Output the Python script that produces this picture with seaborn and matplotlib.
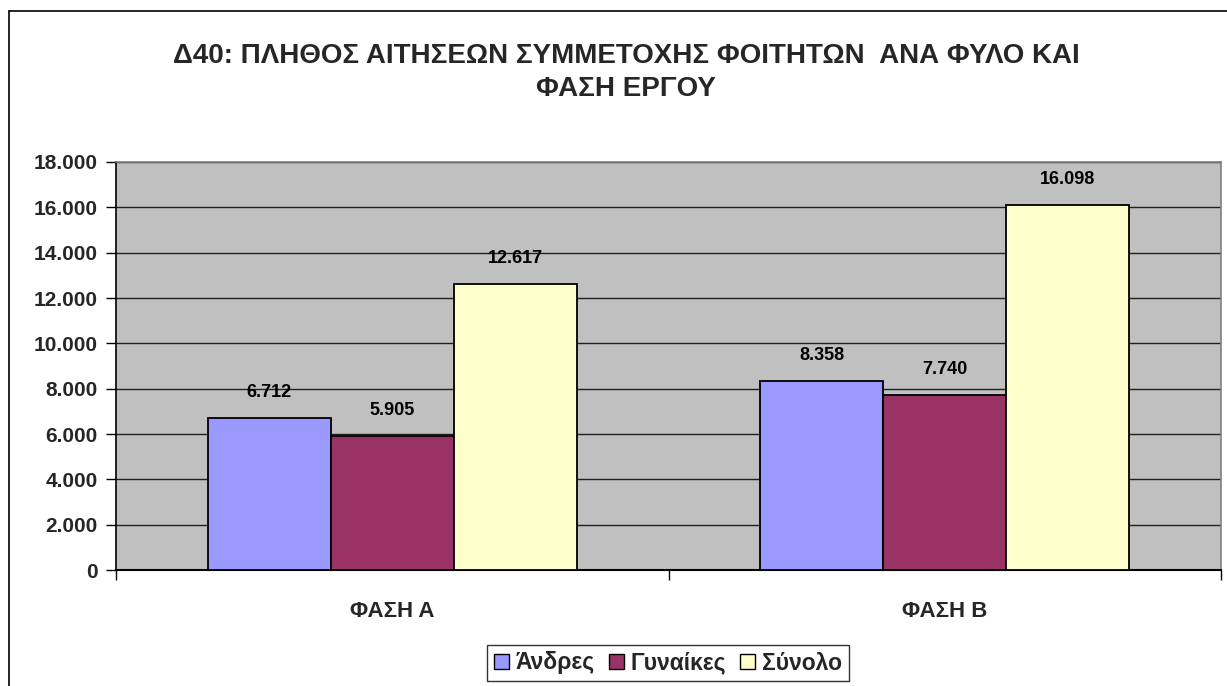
import matplotlib
matplotlib.use("Agg")
import matplotlib.pyplot as plt
import matplotlib.ticker as mticker
from matplotlib.lines import Line2D
from matplotlib.patches import Patch
import seaborn as sns
import pandas as pd

phases = ["ΦΑΣΗ Α", "ΦΑΣΗ Β"]
series = ["Άνδρες", "Γυναίκες", "Σύνολο"]
men = [6712, 8358]
women = [5905, 7740]
total = [12617, 16098]
colors = ["#9999FF", "#993366", "#FFFFCC"]
title = "Δ40: ΠΛΗΘΟΣ ΑΙΤΗΣΕΩΝ ΣΥΜΜΕΤΟΧΗΣ ΦΟΙΤΗΤΩΝ  ΑΝΑ ΦΥΛΟ ΚΑΙ\nΦΑΣΗ ΕΡΓΟΥ"

df = pd.DataFrame({
    "phase": phases * 3,
    "series": [s for s in series for _ in phases],
    "value": men + women + total,
})

sns.set_theme(style="white")
plt.rcParams["font.family"] = ["Liberation Sans", "DejaVu Sans"]
plt.rcParams["font.weight"] = "bold"

fig = plt.figure(figsize=(12.27, 6.86), dpi=100)
W, H = 1227, 686
ax = fig.add_axes([116 / W, 1 - 570 / H, (1221 - 116) / W, (570 - 162) / H])
ax.set_facecolor("#C0C0C0")

sns.barplot(data=df, x="phase", y="value", hue="series", order=phases,
            hue_order=series, palette=colors, width=0.668, ax=ax,
            edgecolor="black", linewidth=1.3, saturation=1, legend=False,
            zorder=3)

ax.set_ylim(0, 18000)
ax.set_xlim(-0.5, 1.5)
ax.set_yticks(range(0, 18001, 2000))
ax.yaxis.set_major_formatter(mticker.FuncFormatter(
    lambda v, p: f"{int(v):,}".replace(",", ".")))
ax.grid(axis="y", color="#202020", linewidth=1.0, zorder=1)
ax.set_axisbelow(True)

ax.set_xlabel("")
ax.set_ylabel("")
ax.tick_params(axis="y", which="major", direction="out", length=7, width=1,
               color="black", labelsize=15, pad=6, left=True)
ax.tick_params(axis="x", which="major", length=0, labelsize=16, pad=22)
ax.xaxis.set_minor_locator(mticker.FixedLocator([-0.5, 0.5, 1.5]))
ax.tick_params(axis="x", which="minor", direction="out", length=7, width=1,
               color="black", bottom=True)
for lbl in ax.get_xticklabels() + ax.get_yticklabels():
    lbl.set_fontweight("bold")

for s in ["top", "right"]:
    ax.spines[s].set_color("#808080")
    ax.spines[s].set_linewidth(1.2)
ax.spines["left"].set_color("black")
ax.spines["bottom"].set_color("black")
ax.spines["left"].set_linewidth(1.2)
ax.spines["bottom"].set_linewidth(1.5)

for container in ax.containers:
    labels = [f"{int(v):,}".replace(",", ".") for v in container.datavalues]
    ax.bar_label(container, labels=labels, padding=12, fontsize=13,
                 fontweight="bold", color="black")

fig.text(626 / W, 1 - 72.5 / H, title, ha="center", va="center",
         fontsize=20, fontweight="bold", linespacing=1.38)

# outer chart frame
fig.add_artist(Line2D([9 / W, 9 / W], [0, 1 - 11 / H], color="black",
                      linewidth=1.2, transform=fig.transFigure))
fig.add_artist(Line2D([9 / W, 1], [1 - 11 / H, 1 - 11 / H], color="black",
                      linewidth=1.2, transform=fig.transFigure))

handles = [Patch(facecolor=c, edgecolor="black", linewidth=1.0) for c in colors]
leg = fig.legend(handles, series, loc="center", ncol=3,
                 bbox_to_anchor=(668 / W, 1 - 663 / H),
                 frameon=True, fancybox=False, shadow=False,
                 prop={"size": 16.5, "weight": "bold"},
                 handlelength=0.65, handleheight=0.65, handletextpad=0.3,
                 columnspacing=0.6, borderpad=0.3)
leg.get_frame().set_edgecolor("black")
leg.get_frame().set_linewidth(1.0)

fig.savefig("out.png", dpi=100, facecolor="white")
